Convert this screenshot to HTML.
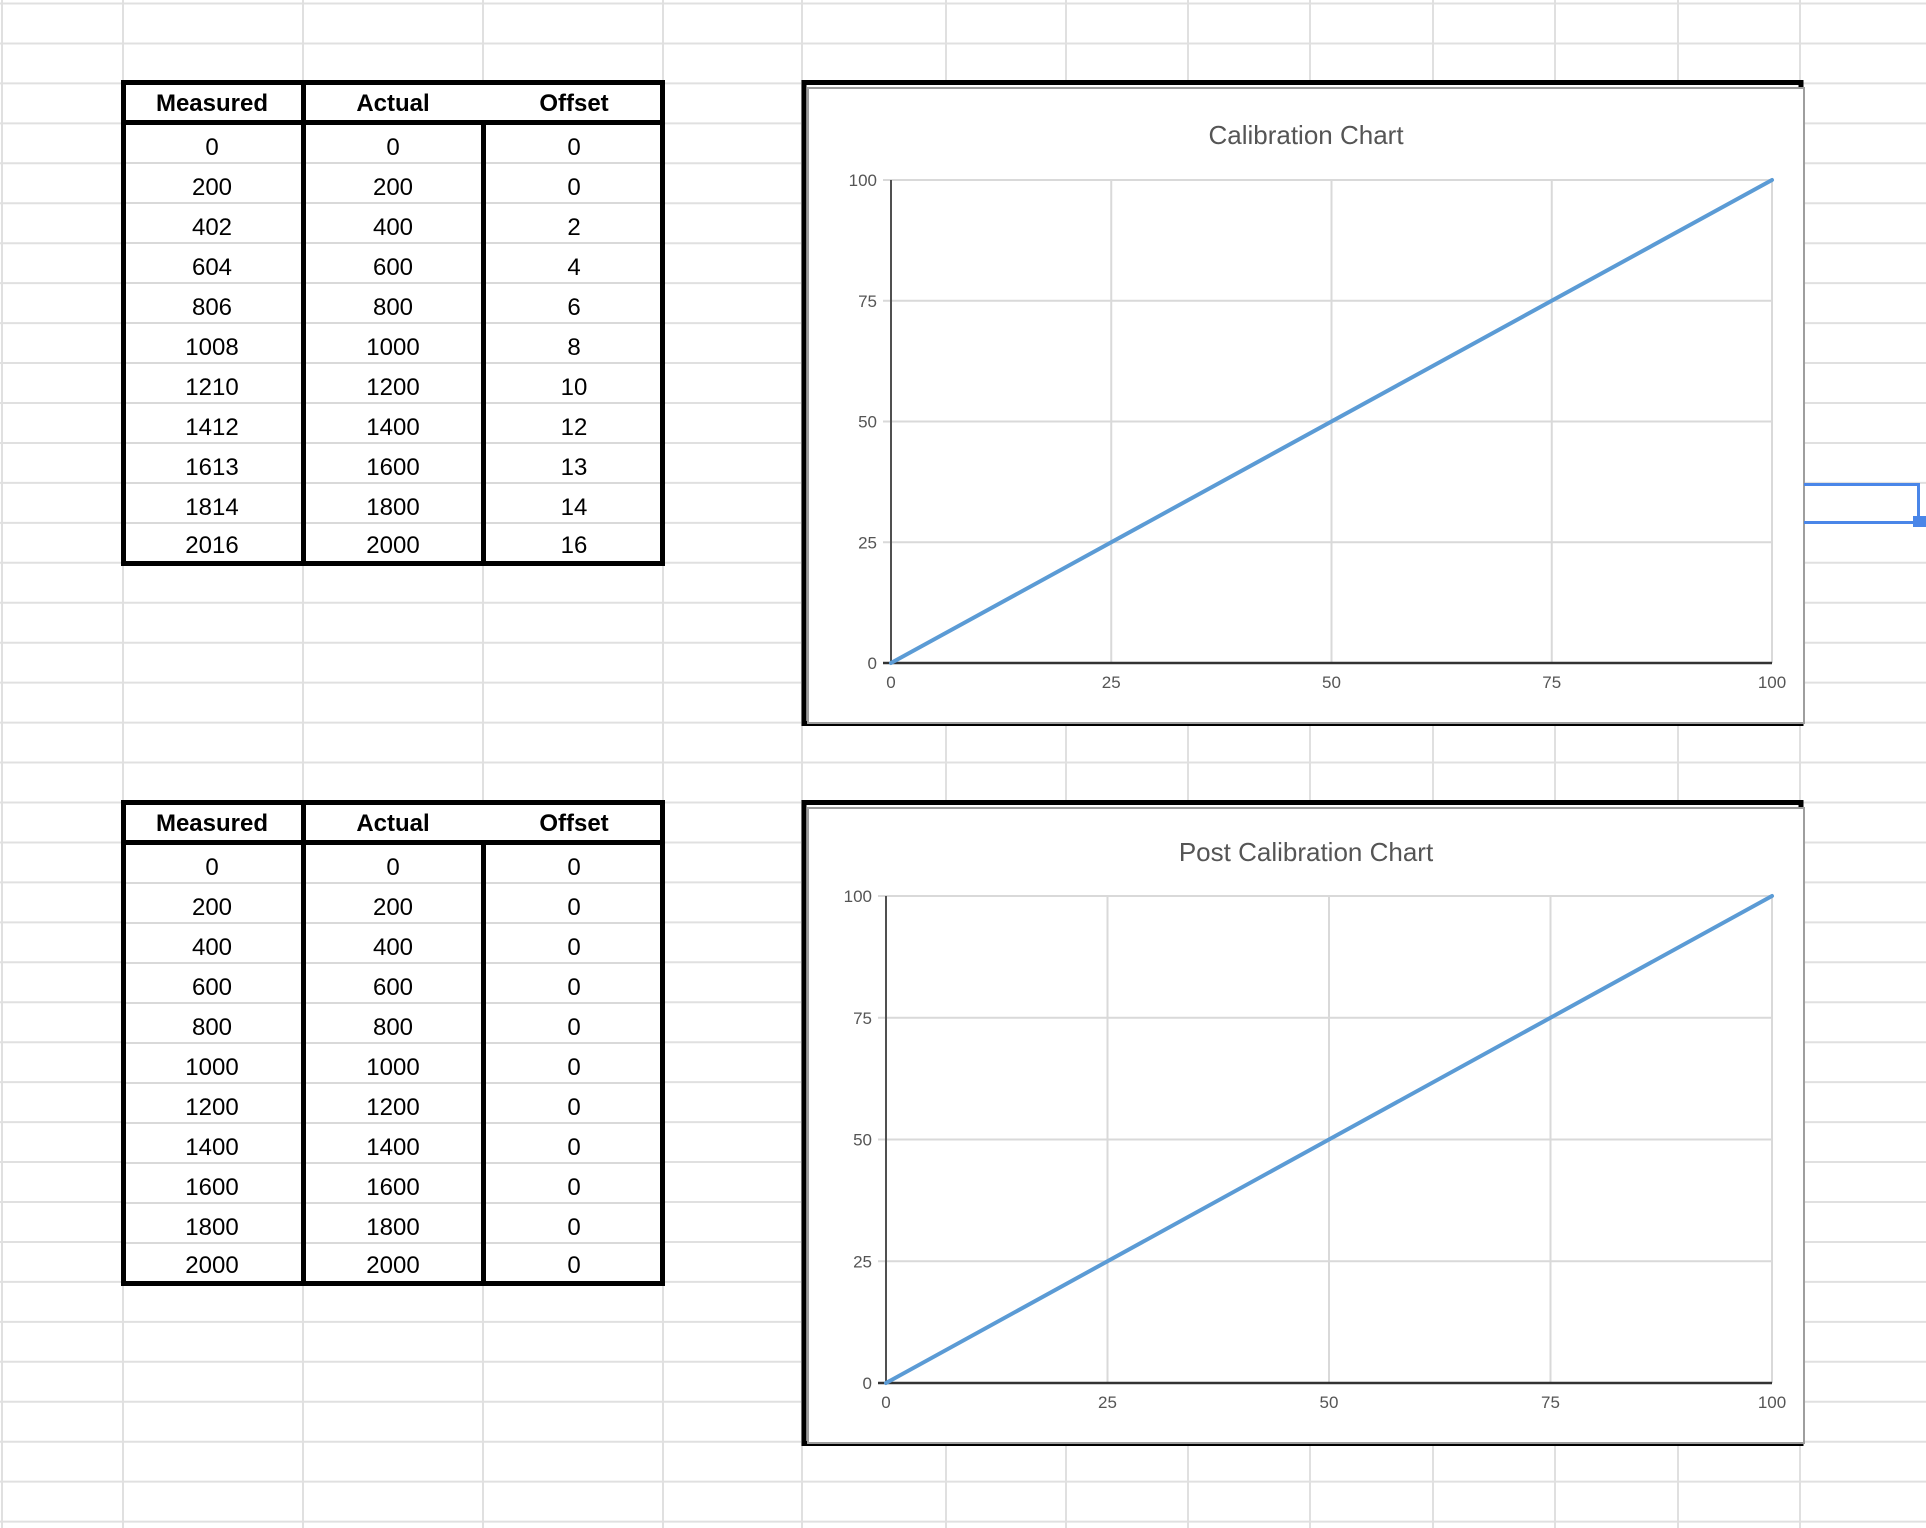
<!DOCTYPE html>
<html><head><meta charset="utf-8">
<style>
html,body{margin:0;padding:0;background:#fff;}
body{width:1926px;height:1528px;position:relative;overflow:hidden;font-family:"Liberation Sans",sans-serif;}
#grid{position:absolute;left:0;top:0;}
.tbl{position:absolute;left:121px;width:544px;height:486px;background:#fff;}
.cell{position:absolute;text-align:center;font-size:24px;color:#000;height:40px;line-height:40px;}
.hd{font-weight:bold;}
.chart{position:absolute;}
</style></head><body>
<svg id="grid" width="1926" height="1528"></svg>

<div class="tbl" id="t1" style="top:80px;"></div>
<div class="tbl" id="t2" style="top:800px;"></div>

<svg class="chart" id="c1" style="left:801px;top:80px" width="1006" height="647"></svg>
<svg class="chart" id="c2" style="left:801px;top:800px" width="1006" height="647"></svg>

<div style="position:absolute;left:1804px;top:483px;width:113px;height:35px;border:3px solid #4a86e8;border-left:none;"></div>
<div style="position:absolute;left:1913px;top:516px;width:13px;height:11px;background:#4a86e8;"></div>

<script>
const measured1=[0,200,402,604,806,1008,1210,1412,1613,1814,2016];
const actual1=[0,200,400,600,800,1000,1200,1400,1600,1800,2000];
const offset1=[0,0,2,4,6,8,10,12,13,14,16];
const measured2=[0,200,400,600,800,1000,1200,1400,1600,1800,2000];
const actual2=[0,200,400,600,800,1000,1200,1400,1600,1800,2000];
const offset2=[0,0,0,0,0,0,0,0,0,0,0];
const seriesX=[0,100];
const seriesY1=[0,100];
const seriesY2=[0,100];
const xTicks=[0,25,50,75,100];
const yTicks=[0,25,50,75,100];

const NS="http://www.w3.org/2000/svg";
function mk(tag,attrs,parent){const e=document.createElementNS(NS,tag);for(const k in attrs)e.setAttribute(k,attrs[k]);parent.appendChild(e);return e;}

const g=document.getElementById('grid');
const cols=[2,123,303,483,663,802,946,1066,1188,1310,1433,1555,1678,1800];
cols.forEach(x=>{const l=mk('line',{x1:x,y1:0,x2:x,y2:1528,stroke:'#e0e0e0','stroke-width':2},g);

});
for(let k=0;k<39;k++){const y=3.5+39.95*k;const l=mk('line',{x1:0,y1:y,x2:1926,y2:y,stroke:'#e0e0e0','stroke-width':2},g);

}

function box(parent,l,t,w,h,bg){const d=document.createElement('div');d.style.cssText='position:absolute;left:'+l+'px;top:'+t+'px;width:'+w+'px;height:'+h+'px;background:'+bg;parent.appendChild(d);return d;}
function fillTable(id,a,b,c){
  const tb=document.getElementById(id);
  const colL=[0,182,362], colW=[182,180,182];
  const heads=['Measured','Actual','Offset'];
  for(let i=1;i<a.length;i++){const s=box(tb,0,42+40*i,544,2,'#d9d9d9');
    
    }
  heads.forEach((h,j)=>{const d=document.createElement('div');d.className='cell hd';
    d.style.left=colL[j]+'px';d.style.width=colW[j]+'px';d.style.top='4px';d.textContent=h;
    
    
    tb.appendChild(d);});
  const data=[a,b,c];
  for(let i=0;i<a.length;i++){for(let j=0;j<3;j++){const d=document.createElement('div');d.className='cell';
    d.style.left=colL[j]+'px';d.style.width=colW[j]+'px';d.style.top=(48+40*i+(i==a.length-1?-2:0))+'px';d.textContent=data[j][i];
    
    
    tb.appendChild(d);}}
  const parts=[[0,0,544,5],[0,481,544,5],[0,0,5,486],[539,0,5,486],[0,40,544,5],[180,0,5,486],[360,40,5,446]];
  parts.forEach(p=>{const s=box(tb,p[0],p[1],p[2],p[3],'#000');
    
    });
}
fillTable('t1',measured1,actual1,offset1);
fillTable('t2',measured2,actual2,offset2);

function drawChart(id,title,ys,plot,titleY){
  const s=document.getElementById(id);
  const f=mk('rect',{x:3,y:2.5,width:997,height:641,fill:'#fff',stroke:'#000','stroke-width':5},s);
  
  
  const inner=mk('rect',{x:7,y:8,width:996,height:635,fill:'#fff',stroke:'#9e9e9e','stroke-width':2},s);
  
  
  const sx=v=>plot.l+(v-0)/100*(plot.r-plot.l);
  const sy=v=>plot.b-(v-0)/100*(plot.b-plot.t);
  const t=mk('text',{x:505,y:titleY,'text-anchor':'middle','font-size':26,fill:'#555','font-family':'Liberation Sans, sans-serif'},s);
  t.textContent=title;
  
  
  xTicks.forEach(v=>{
    const l=mk('line',{x1:sx(v),y1:plot.t,x2:sx(v),y2:plot.b,stroke:'#d9d9d9','stroke-width':2},s);
    
    
    const tx=mk('text',{x:sx(v),y:plot.b+25,'text-anchor':'middle','font-size':17,fill:'#555'},s);
    tx.textContent=v;
    
    
  });
  yTicks.forEach(v=>{
    const l=mk('line',{x1:plot.l-8,y1:sy(v),x2:plot.r,y2:sy(v),stroke:'#d9d9d9','stroke-width':2},s);
    
    
    const tx=mk('text',{x:plot.l-14,y:sy(v)+6,'text-anchor':'end','font-size':17,fill:'#555'},s);
    tx.textContent=v;
    
    
  });
  const ya=mk('line',{x1:plot.l,y1:plot.t,x2:plot.l,y2:plot.b,stroke:'#222','stroke-width':1.5},s);
  
  
  const xa=mk('line',{x1:plot.l-8,y1:plot.b,x2:plot.r,y2:plot.b,stroke:'#333','stroke-width':2.5},s);
  
  
  const pts=seriesX.map((x,i)=>sx(x)+','+sy(ys[i])).join(' ');
  const pl=mk('polyline',{points:pts,fill:'none',stroke:'#5b9bd5','stroke-width':4,'stroke-linecap':'round'},s);
  
  
}
drawChart('c1','Calibration Chart',seriesY1,{l:90,r:971,t:100,b:583},64);
drawChart('c2','Post Calibration Chart',seriesY2,{l:85,r:971,t:96,b:583},61);
</script>
</body></html>
